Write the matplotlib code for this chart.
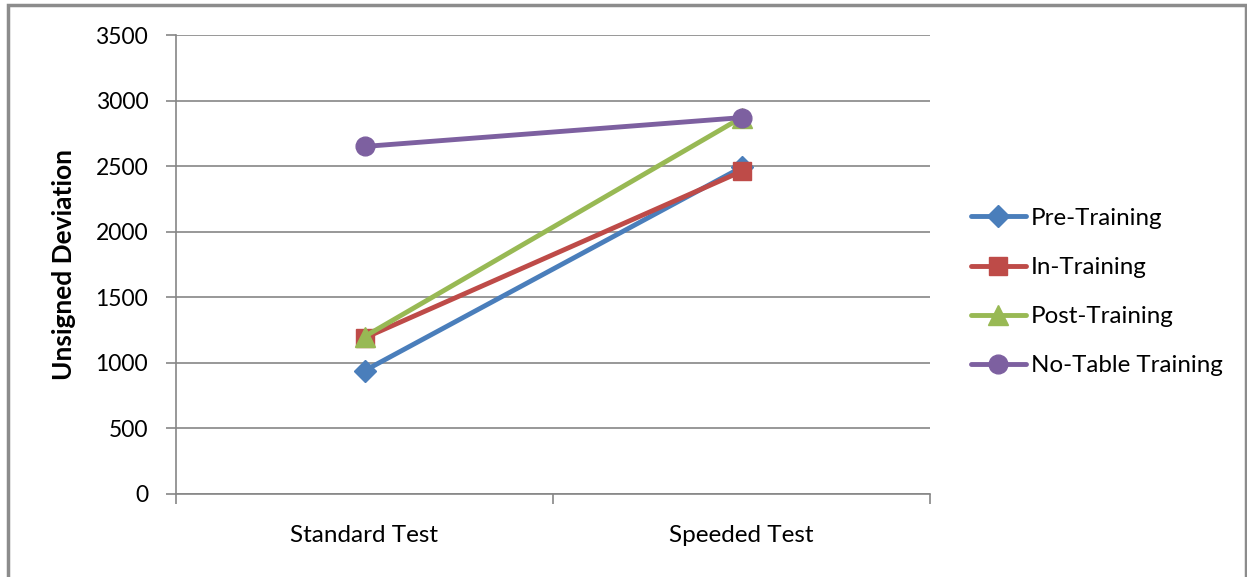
import numpy as np
import matplotlib.pyplot as plt
from matplotlib.patches import Rectangle

categories = ['Standard Test', 'Speeded Test']
series_names = ['Pre-Training', 'In-Training', 'Post-Training', 'No-Table Training']
pre_training = [940, 2490]
in_training = [1190, 2460]
post_training = [1200, 2870]
no_table = [2650, 2870]

colors = ['#4A7EBB', '#BE4B48', '#98B954', '#7D60A0']
markers = ['D', 's', '^', 'o']
msizes = [11.5, 13.5, 14, 13.5]

plt.rcParams['font.family'] = ['Lato', 'DejaVu Sans']

fig = plt.figure(figsize=(12.47, 5.77), dpi=100)
fig.patches.append(Rectangle((8/1247, -0.1), (1246-8)/1247, 1.1 - 5/577,
                             transform=fig.transFigure, fill=False,
                             edgecolor='#8c8c8c', linewidth=2.5))

ax = fig.add_axes([176/1247, 83/577, 754/1247, 459/577])
x = np.arange(len(categories))
for vals, name, c, m, ms in zip([pre_training, in_training, post_training, no_table],
                                series_names, colors, markers, msizes):
    ax.plot(x, vals, color=c, marker=m, markersize=ms, linewidth=3.5,
            label=name, solid_capstyle='round')

ax.set_xlim(-0.5, 1.5)
ax.set_ylim(0, 3500)
ax.set_yticks(np.arange(0, 3501, 500))
ax.set_xticks(x)
ax.set_xticklabels(categories)
ax.set_xticks([-0.5, 0.5, 1.5], minor=True)
ax.tick_params(axis='x', which='major', length=0, pad=22, labelsize=17.5)
ax.tick_params(axis='x', which='minor', length=7, width=1.2, color='#868686', direction='out')
ax.tick_params(axis='y', length=7, width=1.2, color='#868686', direction='out', pad=13, labelsize=16.5)
ax.grid(axis='y', color='#868686', linewidth=1.2)
ax.set_axisbelow(True)
for s in ['top', 'right']:
    ax.spines[s].set_visible(False)
for s in ['left', 'bottom']:
    ax.spines[s].set_color('#868686')
    ax.spines[s].set_linewidth(1.2)

ax.set_ylabel('Unsigned Deviation', fontsize=19, fontweight='bold', labelpad=14)

fig.legend(loc='center left', bbox_to_anchor=(961/1247, 1 - 292/577), frameon=False,
           fontsize=17.4, handlelength=2.3, handletextpad=0.2, labelspacing=1.16,
           borderaxespad=0)

fig.savefig('out.png', dpi=100)
